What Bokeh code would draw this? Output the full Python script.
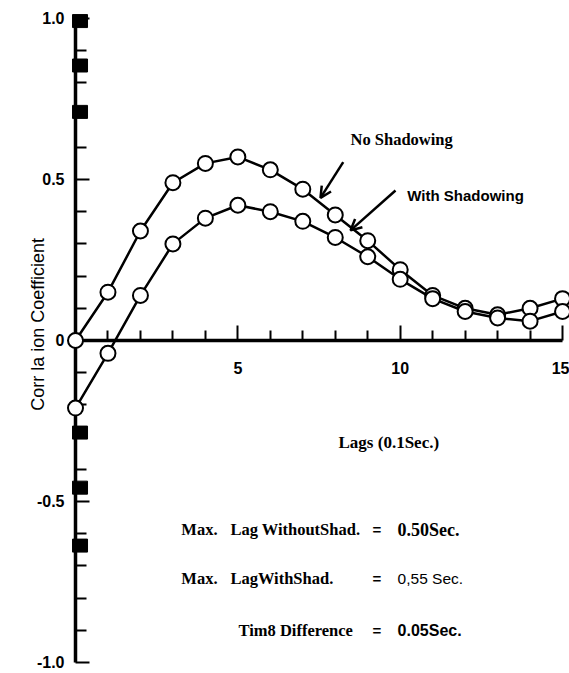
import math
from bokeh.plotting import figure
from bokeh.models import LinearAxis, FixedTicker, Label, Arrow, OpenHead, Range1d, ColumnDataSource
from bokeh.embed import file_html
from bokeh.resources import INLINE

# ---- data ----
lags = [0, 1, 2, 3, 4, 5, 6, 7, 8, 9, 10, 11, 12, 13, 14, 15]
no_shadowing = [0.00, 0.15, 0.34, 0.49, 0.55, 0.57, 0.53, 0.47, 0.39, 0.31, 0.22, 0.14, 0.10, 0.08, 0.10, 0.13]
with_shadowing = [-0.21, -0.04, 0.14, 0.30, 0.38, 0.42, 0.40, 0.37, 0.32, 0.26, 0.19, 0.13, 0.09, 0.07, 0.06, 0.09]

x_major_ticks = [5, 10, 15]
x_tick_labels = ["5", "10", "15"]
x_minor_ticks = [1, 2, 3, 4, 6, 7, 8, 9, 11, 12, 13, 14]
y_major_ticks = [-1.0, -0.5, 0.0, 0.5, 1.0]
y_tick_labels = ["-1.0", "-0.5", "0", "0.5", "1.0"]
y_minor_ticks = [-0.9, -0.8, -0.7, -0.6, -0.4, -0.3, -0.2, -0.1,
                 0.1, 0.2, 0.3, 0.4, 0.6, 0.7, 0.8, 0.9]
scan_marks_y = [0.992, 0.854, 0.710, -0.286, -0.457, -0.637]

summary_prefix = ["Max.", "Max.", ""]
summary_names = ["Lag WithoutShad.", "LagWithShad.", "Tim8 Difference"]
summary_values = ["0.50Sec.", "0,55 Sec.", "0.05Sec."]

series_names = ["No Shadowing", "With Shadowing"]
y_title = "Corr la ion Coefficient"
x_title = "Lags (0.1Sec.)"

# ---- figure ----
p = figure(width=569, height=673, output_backend="svg", toolbar_location=None,
           x_axis_location=None, y_axis_location=None,
           x_range=Range1d(-2.310, 15.214), y_range=Range1d(-1.0342, 1.0559),
           min_border=0, min_border_left=0, min_border_right=0,
           min_border_top=0, min_border_bottom=0)
p.outline_line_color = None
p.background_fill_color = "white"
p.border_fill_color = "white"
p.grid.visible = False

xaxis = LinearAxis(fixed_location=0, bounds=(0, 15),
                   ticker=FixedTicker(ticks=x_major_ticks, minor_ticks=x_minor_ticks),
                   major_label_overrides={t: s for t, s in zip(x_major_ticks, x_tick_labels)})
xaxis.axis_line_width = 3.5
xaxis.axis_line_color = "black"
xaxis.major_tick_in = 15
xaxis.major_tick_out = 0
xaxis.minor_tick_in = 10
xaxis.minor_tick_out = 0
xaxis.major_tick_line_width = 2
xaxis.minor_tick_line_width = 2
xaxis.major_tick_line_color = "black"
xaxis.minor_tick_line_color = "black"
xaxis.major_label_standoff = 22
xaxis.major_label_text_font = "Liberation Sans"
xaxis.major_label_text_font_style = "bold"
xaxis.major_label_text_font_size = "16px"
xaxis.major_label_text_color = "black"
xaxis.level = "underlay"
p.add_layout(xaxis, "below")

yaxis = LinearAxis(fixed_location=0, bounds=(-1, 1),
                   ticker=FixedTicker(ticks=y_major_ticks, minor_ticks=y_minor_ticks),
                   major_label_overrides={t: s for t, s in zip(y_major_ticks, y_tick_labels)})
yaxis.axis_line_width = 3.5
yaxis.axis_line_color = "black"
yaxis.major_tick_in = 14
yaxis.major_tick_out = 0
yaxis.minor_tick_in = 11
yaxis.minor_tick_out = 0
yaxis.major_tick_line_width = 2
yaxis.minor_tick_line_width = 2
yaxis.major_tick_line_color = "black"
yaxis.minor_tick_line_color = "black"
yaxis.major_label_standoff = 11
yaxis.major_label_text_font = "Liberation Sans"
yaxis.major_label_text_font_style = "bold"
yaxis.major_label_text_font_size = "16px"
yaxis.major_label_text_color = "black"
yaxis.level = "underlay"
p.add_layout(yaxis, "left")

# scan marks on the axis
p.rect(x=[0.139] * len(scan_marks_y), y=scan_marks_y, width=15, height=13,
       width_units="screen", height_units="screen", color="black")

# curves
src = ColumnDataSource(dict(lag=lags, no=no_shadowing, wi=with_shadowing))
for col in ["no", "wi"]:
    p.line("lag", col, source=src, line_color="black", line_width=2.5)
    p.scatter("lag", col, source=src, marker="circle", size=15,
              fill_color="white", line_color="black", line_width=2)


def lab(x, y, text, font, style, size, **kw):
    p.add_layout(Label(x=x, y=y, text=text, text_align=kw.pop("align", "left"),
                       text_baseline="middle", text_font=font, text_font_style=style,
                       text_font_size=size, text_color="black", **kw))


# titles
lab(-1.14, 0.050, y_title, "Liberation Sans", "normal", "18px", align="center", angle=math.pi / 2)
lab(8.10, -0.317, x_title, "Liberation Serif", "bold", "17px")

# series labels and arrows
lab(8.47, 0.624, series_names[0], "Liberation Serif", "bold", "16.5px")
lab(10.22, 0.450, series_names[1], "Liberation Sans", "bold", "15px")
p.add_layout(Arrow(end=OpenHead(size=11, line_width=2.5), x_start=8.245, y_start=0.554,
                   x_end=7.545, y_end=0.443, line_width=2.5))
p.add_layout(Arrow(end=OpenHead(size=11, line_width=2.5), x_start=9.855, y_start=0.466,
                   x_end=8.47, y_end=0.342, line_width=2.5))

# summary block
row_y = [-0.587, -0.739, -0.901]
name_x = [4.77, 4.77, 5.02]
value_fonts = [("Liberation Serif", "bold", "18px"), ("Liberation Sans", "normal", "15.5px"),
               ("Liberation Sans", "bold", "16px")]
for i in range(3):
    if summary_prefix[i]:
        lab(3.26, row_y[i], summary_prefix[i], "Liberation Serif", "bold", "16.5px")
    lab(name_x[i], row_y[i], summary_names[i], "Liberation Serif", "bold", "16.5px")
    lab(9.15, row_y[i], "=", "Liberation Sans", "bold", "15px")
    lab(9.92, row_y[i], summary_values[i], *value_fonts[i])

open("out.html", "w").write(file_html(p, INLINE))
